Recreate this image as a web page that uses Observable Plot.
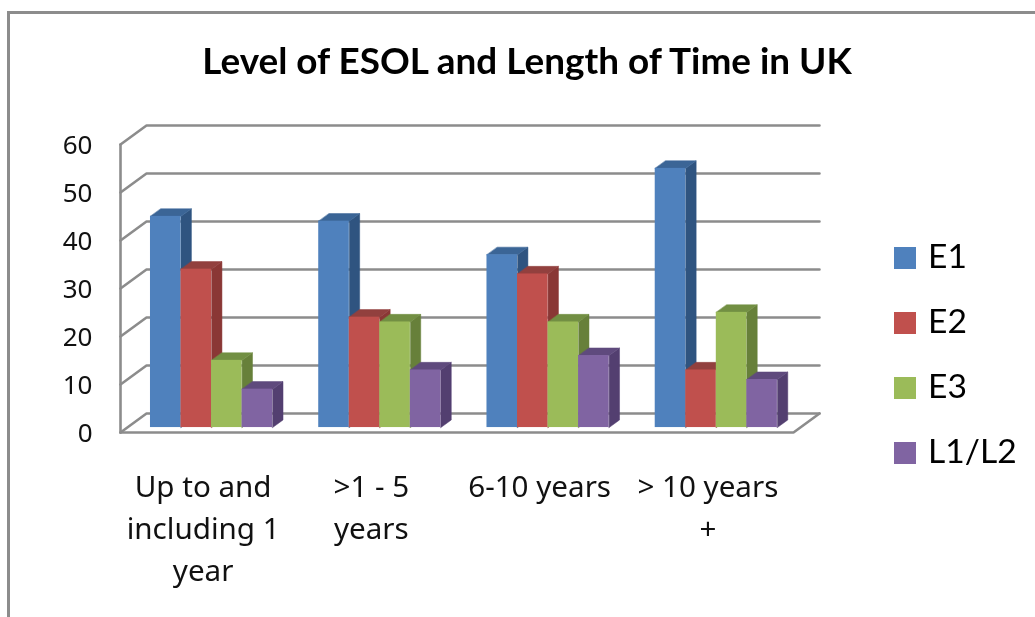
<!DOCTYPE html>
<html>
<head>
<meta charset="utf-8">
<script src="https://cdn.jsdelivr.net/npm/d3@7"></script>
<script src="https://cdn.jsdelivr.net/npm/@observablehq/plot@0.6"></script>
<style>
  html, body { margin: 0; padding: 0; background: #fff; width: 1035px; height: 617px; overflow: hidden; }
  body { font-family: Lato, "Open Sans", sans-serif; color: #000; filter: blur(0.55px); }
  #frame { position: absolute; left: 7px; top: 11px; right: -5px; bottom: -5px; border: solid #8c8c8c; border-width: 3px 3px 0 3px; }
  #chart { position: absolute; left: 0; top: 0; }
  h1 { position: absolute; left: 0; top: 38px; width: 1054px; margin: 0; text-align: center; font-size: 36.9px; line-height: 44px; font-weight: 700; }
  #legend { position: absolute; left: 894px; top: 225px; }
  #legend div { height: 65px; display: flex; align-items: center; font-size: 33.6px; line-height: 61px; }
  #legend i { display: block; width: 22px; height: 22px; margin-right: 12px; }
  #legend span { position: relative; top: -2px; }
</style>
</head>
<body>
<div id="frame"></div>
<h1>Level of ESOL and Length of Time in UK</h1>
<div id="chart"></div>
<div id="legend"></div>
<script>
const categories = ["Up to and\nincluding 1\nyear", ">1 - 5\nyears", "6-10 years", "> 10 years\n+"];
const seriesNames = ["E1", "E2", "E3", "L1/L2"];
const e1 = [44, 43, 36, 54];
const e2 = [33, 23, 32, 12];
const e3 = [14, 22, 22, 24];
const l1l2 = [8, 12, 15, 10];
const seriesValues = [e1, e2, e3, l1l2];
const frontColors = ["#4f81bd", "#c0504d", "#9bbb59", "#8064a2"];
const sideColors = ["#2f5480", "#8a3735", "#67803a", "#533f70"];
const topColors = ["#3b6596", "#92403e", "#728f43", "#5f4a7d"];
const yTicks = [0, 10, 20, 30, 40, 50, 60];

// Oblique projection of the Excel-style 3D box, in data units.
const depthX = 0.1545, depthY = 3.96;
const groupStart = 0.138, barWidth = 0.1815;
const barZ0 = 0.26, barZ1 = 0.66;
const P = (cat, val, z) => ({x: cat + z * depthX, y: val + z * depthY});

const wall = [];
yTicks.forEach(t => {
  [P(0, t, 0), P(0, t, 1), P(4, t, 1)].forEach(p => wall.push({...p, id: "g" + t}));
});
[P(0, 0, 0), P(4, 0, 0), P(4, 0, 1)].forEach(p => wall.push({...p, id: "floor"}));
[P(0, 0, 0), P(0, 60, 0)].forEach(p => wall.push({...p, id: "axis"}));

const fronts = [], faces = [];
seriesValues.forEach((vals, s) => {
  vals.forEach((v, c) => {
    const x0 = c + groupStart + s * barWidth, x1 = x0 + barWidth;
    const a = P(x0, v, barZ0), b = P(x1, v, barZ0), b0 = P(x1, 0, barZ0);
    fronts.push({x1: a.x, x2: b.x, y1: b0.y, y2: a.y, fill: frontColors[s]});
    const side = [b0, P(x1, 0, barZ1), P(x1, v, barZ1), b];
    const top = [a, b, P(x1, v, barZ1), P(x0, v, barZ1)];
    side.forEach(p => faces.push({...p, id: `s${s}c${c}side`, fill: sideColors[s]}));
    top.forEach(p => faces.push({...p, id: `s${s}c${c}top`, fill: topColors[s]}));
  });
});

const chart = Plot.plot({
  width: 1035, height: 617,
  marginLeft: 120, marginRight: 242, marginTop: 144, marginBottom: 185,
  x: {domain: [0, 4], range: [120, 793]},
  y: {domain: [0, 60], range: [432, 144]},
  style: {background: "transparent", overflow: "visible"},
  marks: [
    Plot.line(wall, {x: "x", y: "y", z: "id", stroke: "#8c8c8c", strokeWidth: 2.6, curve: "linear", strokeLinejoin: "miter"}),
    Plot.line(faces, {x: "x", y: "y", z: "id", fill: "fill", stroke: "fill", strokeWidth: 0.5, curve: "linear-closed"}),
    Plot.rect(fronts, {x1: "x1", x2: "x2", y1: "y1", y2: "y2", fill: "fill"}),
    Plot.axisY({ticks: yTicks, tickSize: 0, tickPadding: 28, fontSize: 26, dy: 1.5, fill: "#111", anchor: "left", label: null}),
    Plot.axisX({ticks: categories.map((_, i) => i + 0.5), tickFormat: d => categories[d - 0.5], tickSize: 0, tickPadding: 35, fontSize: 29.6, dx: -1.5, lineHeight: 1.42, fill: "#111", anchor: "bottom", label: null})
  ]
});
document.getElementById("chart").append(chart);

const legend = document.getElementById("legend");
seriesNames.forEach((name, i) => {
  const row = document.createElement("div");
  const sw = document.createElement("i");
  sw.style.background = frontColors[i];
  const label = document.createElement("span");
  label.textContent = name;
  row.append(sw, label);
  legend.append(row);
});
</script>
</body>
</html>
